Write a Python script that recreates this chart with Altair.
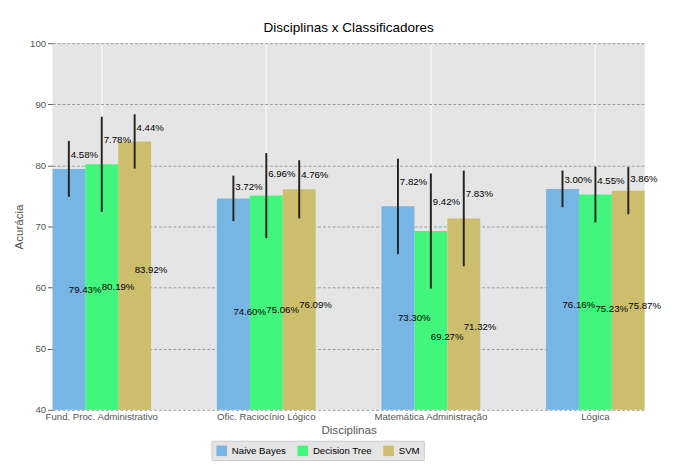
import altair as alt
import pandas as pd

disciplinas = ["Fund. Proc. Administrativo", "Ofic. Raciocínio Lógico",
               "Matemática Administração", "Lógica"]
classificadores = ["Naive Bayes", "Decision Tree", "SVM"]
medias = {
    "Naive Bayes": [79.43, 74.60, 73.30, 76.16],
    "Decision Tree": [80.19, 75.06, 69.27, 75.23],
    "SVM": [83.92, 76.09, 71.32, 75.87],
}
desvios = {
    "Naive Bayes": [4.58, 3.72, 7.82, 3.00],
    "Decision Tree": [7.78, 6.96, 9.42, 4.55],
    "SVM": [4.44, 4.76, 7.83, 3.86],
}
cores = ["#77b5e5", "#42f57c", "#cdbe6e"]

rows = []
for c in classificadores:
    for i, d in enumerate(disciplinas):
        m, s = medias[c][i], desvios[c][i]
        rows.append({"Disciplina": d, "Classificador": c, "Media": m, "Desvio": s,
                     "lo": m - s, "hi": m + s, "ymed": m * 0.75, "ydes": m + s / 2,
                     "tmed": f"{m:.2f}%", "tdes": f"{s:.2f}%"})
df = pd.DataFrame(rows)

x = alt.X("Disciplina:N", sort=disciplinas, title="Disciplinas",
          scale=alt.Scale(paddingInner=0.4, paddingOuter=0.0),
          axis=alt.Axis(labelAngle=0, grid=True, gridColor="white", gridWidth=1,
                        bandPosition=0.5, ticks=False, domain=False,
                        labelColor="#555", labelFontSize=10, titleFontSize=12,
                        titleColor="#555", titleFontWeight="normal", titlePadding=4))
xo = alt.XOffset("Classificador:N", sort=classificadores)
ysc = alt.Scale(domain=[40, 100])

base = alt.Chart(df)
bars = base.mark_bar(clip=True).encode(
    x=x, xOffset=xo,
    y=alt.Y("Media:Q", scale=ysc, title="Acurácia",
            axis=alt.Axis(values=list(range(40, 101, 10)), gridDash=[3, 2],
                          gridColor="#999", domain=False, tickColor="#555",
                          labelColor="#555", labelFontSize=10, titleFontSize=12,
                          titleColor="#555", titleFontWeight="normal")),
    color=alt.Color("Classificador:N", sort=classificadores,
                    scale=alt.Scale(domain=classificadores, range=cores),
                    legend=alt.Legend(orient="none", legendX=165, legendY=412,
                                      title=None, direction="horizontal",
                                      symbolType="square", symbolSize=120,
                                      labelFontSize=10, strokeColor="#ccc",
                                      fillColor="#e5e5e5", padding=4)),
)
err = base.mark_rule(color="#222", strokeWidth=2).encode(
    x=x, xOffset=xo, y=alt.Y("lo:Q", scale=ysc), y2="hi:Q")
tmed = base.mark_text(align="left", dx=0, fontSize=10, color="black").encode(
    x=x, xOffset=xo, y=alt.Y("ymed:Q", scale=ysc), text="tmed:N")
tdes = base.mark_text(align="left", dx=2, fontSize=10, color="black").encode(
    x=x, xOffset=xo, y=alt.Y("ydes:Q", scale=ysc), text="tdes:N")

chart = (bars + err + tmed + tdes).properties(
    width=614, height=380,
    title=alt.Title("Disciplinas x Classificadores", fontSize=14, fontWeight="normal"),
).configure_view(fill="#e5e5e5", stroke=None)

chart.save("out.html", embed_options={"renderer": "svg", "actions": False})
